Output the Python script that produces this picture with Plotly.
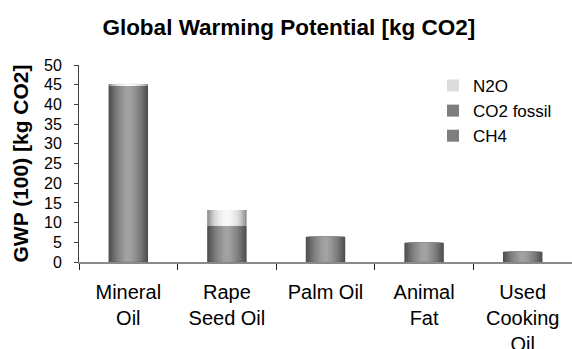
import plotly.graph_objects as go
import numpy as np

categories = ["Mineral<br>Oil", "Rape<br>Seed Oil", "Palm Oil", "Animal<br>Fat", "Used<br>Cooking<br>Oil"]
ch4 = [0.1, 0.1, 0.1, 0.1, 0.1]
co2_fossil = [44.7, 9.1, 6.3, 4.8, 2.5]
n2o = [0.4, 4.0, 0.0, 0.0, 0.0]

gray_shades = ['#4e4e4e', '#5a5a5a', '#666666', '#727272', '#7e7e7e', '#898989', '#939393', '#9c9c9c', '#a2a2a2']
light_shades = ['#8c8c8c', '#a4a4a4', '#bababa', '#cccccc', '#dcdcdc', '#e6e6e6', '#eeeeee', '#f4f4f4', '#f8f8f8']
widths = [0.4, 0.37, 0.33, 0.29, 0.25, 0.2, 0.15, 0.1, 0.05]

series = [
    ("CH4", ch4, gray_shades, 3),
    ("CO2 fossil", co2_fossil, gray_shades, 2),
    ("N2O", n2o, light_shades, 1),
]

fig = go.Figure()
base = np.zeros(len(categories))
for name, vals, colors, rank in series:
    vals = np.array(vals)
    for i, (w, c) in enumerate(zip(widths, colors)):
        fig.add_trace(go.Bar(
            x=categories, y=vals, base=base, width=w, name=name,
            marker=dict(color=c, line=dict(width=0)),
            showlegend=(i == 4), legendrank=rank, legendgroup=name,
        ))
    base = base + vals

fig.update_layout(
    barmode="overlay",
    width=572, height=349,
    margin=dict(l=79, r=0, t=65, b=87),
    paper_bgcolor="white", plot_bgcolor="white",
    font=dict(family="Liberation Sans, Arial, sans-serif", color="black", size=20),
    title=dict(text="<b>Global Warming Potential [kg CO2]</b>", x=0.505, xanchor="center",
               y=0.922, yanchor="middle", font=dict(size=22.5)),
    legend=dict(x=0.718, y=0.985, xanchor="left", yanchor="top", bgcolor="rgba(0,0,0,0)",
                font=dict(size=17), tracegroupgap=0, itemwidth=30),
    showlegend=True,
)
fig.update_yaxes(range=[0, 50], dtick=5, showline=True, linecolor="#404040", linewidth=1,
                 ticks="outside", ticklen=4, tickcolor="#404040", showgrid=False,
                 zeroline=False, tickfont=dict(size=16), ticklabelstandoff=9, automargin=False,
                 title=dict(text="<b>GWP (100) [kg CO2]</b>", font=dict(size=21), standoff=9))
fig.update_xaxes(showline=True, linecolor="#8a8a8a", linewidth=2, ticks="outside",
                 tickson="boundaries", ticklen=6, tickcolor="#202020", showgrid=False,
                 tickfont=dict(size=20), tickangle=0, ticklabelstandoff=11, automargin=False)

fig.write_html("out.html")
